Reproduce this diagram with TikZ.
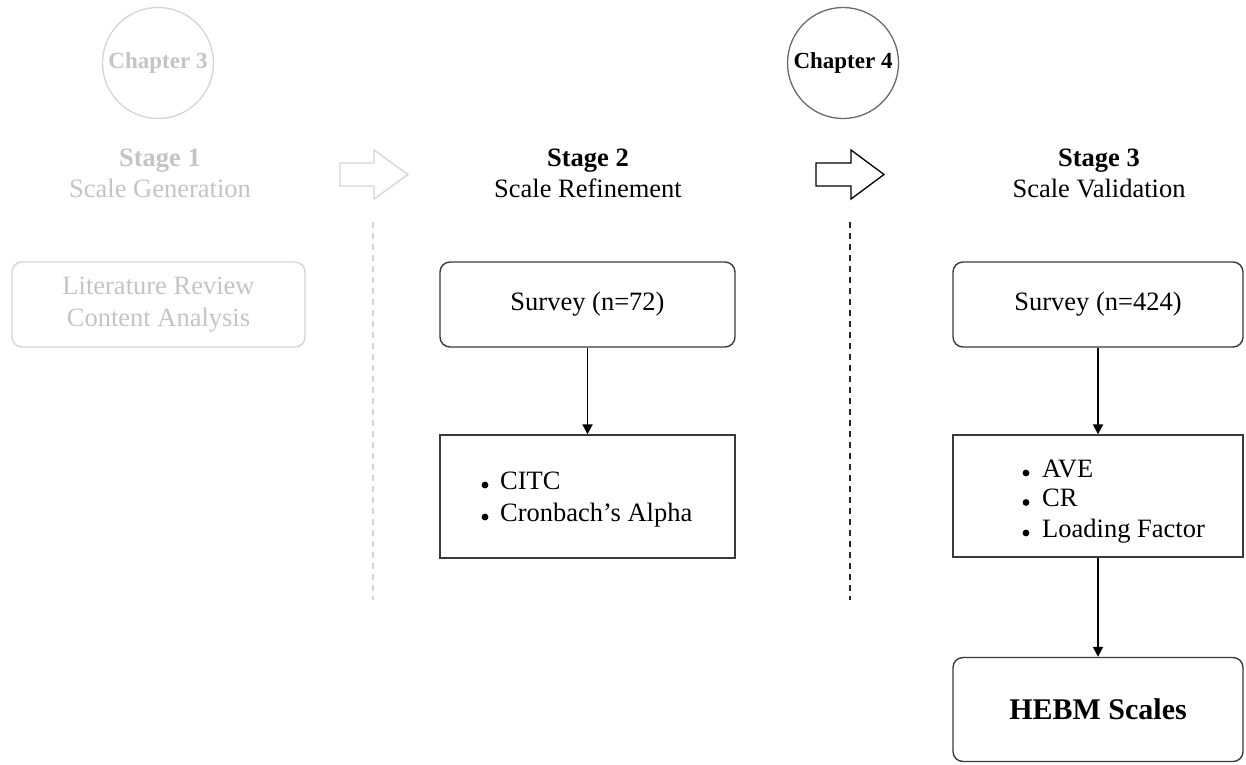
\documentclass[tikz,border=0pt]{standalone}
\usepackage{fontspec}
\setmainfont{Liberation Serif}
\usetikzlibrary{arrows.meta}

\definecolor{faint}{HTML}{C4C4C4}
\definecolor{faintline}{HTML}{D4D4D4}
\definecolor{ink}{HTML}{3A3A3A}
\definecolor{ringgrey}{HTML}{6A6A6A}

\tikzset{
  body/.style={font=\fontsize{26.5}{32}\selectfont},
  title/.style={font=\fontsize{26.5}{32}\selectfont\bfseries},
  chapter/.style={circle, minimum size=111pt, inner sep=0pt, line width=1.3pt,
                  font=\fontsize{23}{26}\selectfont\bfseries},
  softbox/.style={draw=ink, line width=1.4pt, rounded corners=10pt, inner sep=0pt,
                  align=center, body},
  plainbox/.style={draw=ink, line width=1.4pt, inner sep=0pt},
  itemtext/.style={body, anchor=base west, inner sep=0pt},
  flow/.style={line width=1.8pt, -{Triangle[width=10pt,length=10pt]}},
  stepline/.style={line width=2pt, dash pattern=on 6pt off 5pt},
  hollowarrow/.style={line width=1.3pt, line join=miter},
}

\begin{document}
\begin{tikzpicture}[x=1pt,y=-1pt]
\useasboundingbox (0,0) rectangle (1246,764);

% chapter markers
\node[chapter, draw=faintline, text=faint] (ch3) at (158,63) {Chapter 3};
\node[chapter, draw=ringgrey, text=black] (ch4) at (843,63) {Chapter 4};

% stage headings
\node[title, text=faint, anchor=base] (s1t) at (160,166) {Stage 1};
\node[body, text=faint, anchor=base] (s1s) at (160,197) {Scale Generation};
\node[title, anchor=base] (s2t) at (588,166) {Stage 2};
\node[body, anchor=base] (s2s) at (588,197) {Scale Refinement};
\node[title, anchor=base] (s3t) at (1099,166) {Stage 3};
\node[body, anchor=base] (s3s) at (1099,197) {Scale Validation};

% hollow transition arrows
\draw[hollowarrow, draw=faintline]
  (340,163) -- (374,163) -- (374,150) -- (408,174.5) -- (374,199) -- (374,186) -- (340,186) -- cycle;
\draw[hollowarrow, draw=black]
  (816,163) -- (851,163) -- (851,150) -- (884,174.5) -- (851,199) -- (851,186) -- (816,186) -- cycle;

% stage separators
\draw[stepline, draw=faintline] (373,222) -- (373,600);
\draw[stepline, draw=black!85] (850,222) -- (850,600);

% stage 1
\node[softbox, draw=faintline, text=faint, minimum width=293pt, minimum height=85pt]
  (lit) at (158.5,304.5) {Literature Review\\Content Analysis};

% stage 2
\node[softbox, minimum width=295pt, minimum height=85pt]
  (sv72) at (587.5,304.5) {Survey (n=72)};
\node[plainbox, minimum width=295pt, minimum height=123pt]
  (rel) at (587.5,496.5) {};
\node[itemtext] (citc) at (500,489) {CITC};
\node[itemtext] (alpha) at (500,521) {Cronbach’s Alpha};
\fill (485,485) circle (3.4);
\fill (485,517) circle (3.4);
\draw[flow] (sv72) -- (rel);

% stage 3
\node[softbox, minimum width=290pt, minimum height=85pt]
  (sv424) at (1098,304.5) {Survey (n=424)};
\node[plainbox, minimum width=290pt, minimum height=122pt]
  (val) at (1098,496) {};
\node[itemtext] (ave) at (1042,477) {AVE};
\node[itemtext] (cr) at (1042,506.5) {CR};
\node[itemtext] (load) at (1042,537) {Loading Factor};
\fill (1026,473) circle (3.4);
\fill (1026,502.5) circle (3.4);
\fill (1026,533) circle (3.4);
\node[softbox, minimum width=290pt, minimum height=104pt,
      font=\fontsize{30}{34}\selectfont\bfseries]
  (hebm) at (1098,709.5) {HEBM Scales};
\draw[flow] (sv424) -- (val);
\draw[flow] (val) -- (hebm);
\end{tikzpicture}
\end{document}
